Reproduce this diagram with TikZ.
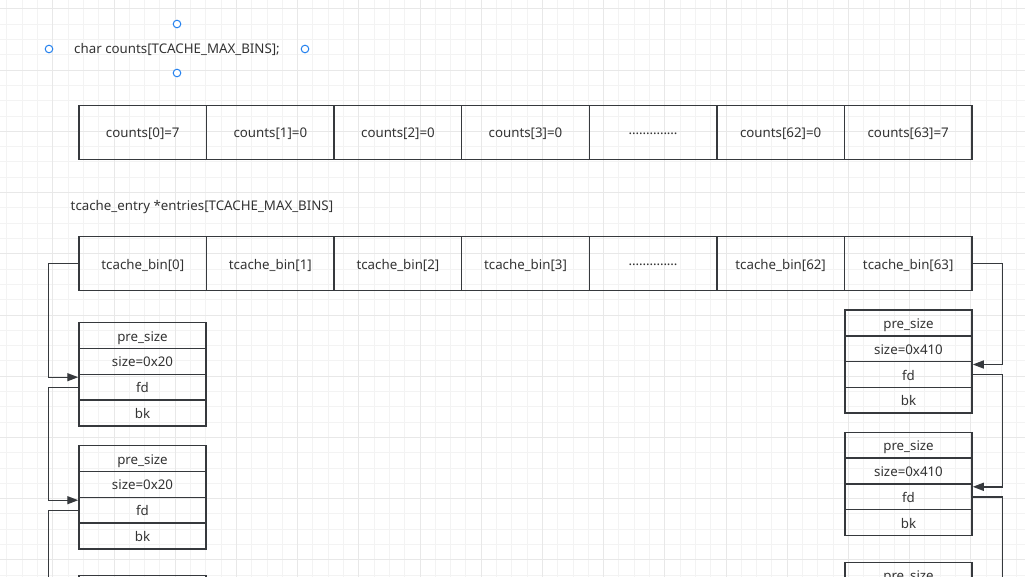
\documentclass[tikz,border=0pt]{standalone}
\usepackage{fontspec}
\setmainfont{Noto Sans}
\usetikzlibrary{arrows.meta}

\definecolor{linec}{RGB}{54,57,61}
\definecolor{txtc}{RGB}{51,51,51}
\definecolor{gridminor}{RGB}{243,243,243}
\definecolor{gridmajor}{RGB}{232,232,232}
\definecolor{handlec}{RGB}{34,128,238}

\newcommand{\binsgap}{\raisebox{3.5pt}{\makebox[49pt]{\xleaders\hbox to 3.27pt{\hss.\hss}\hfill}}}

\tikzset{
  cell/.style={draw=linec, line width=1.5pt, minimum width=127.6pt,
    minimum height=54pt, inner sep=0pt, text=txtc, text height=12.5pt, text depth=1.5pt},
  field/.style={draw=linec, line width=1.5pt, minimum width=127pt,
    minimum height=25.8pt, inner sep=0pt, text=txtc, text height=12.5pt, text depth=1.5pt},
  link/.style={draw=linec, line width=1.4pt, -{Triangle[length=11pt,width=8pt]}},
  lbl/.style={inner sep=0pt, text=txtc, text height=11pt, text depth=2pt},
  handle/.style={draw=handlec, fill=white, line width=1pt}
}

\begin{document}
\begin{tikzpicture}[x=1pt, y=-1pt, font=\fontsize{13.3}{16}\selectfont]

  \useasboundingbox (0,0) rectangle (1025,577);
  \clip (0,0) rectangle (1025,577);
  \fill[white] (0,0) rectangle (1025,577);

  % grid
  \foreach \i in {0,...,66} \draw[gridminor, line width=1pt] ({6.9+15.3*\i},0) -- ++(0,577);
  \foreach \j in {0,...,37} \draw[gridminor, line width=1pt] (0,{9+15.3*\j}) -- ++(1025,0);
  \foreach \i in {3,7,...,67} \draw[gridmajor, line width=1pt] ({6.9+15.3*\i},0) -- ++(0,577);
  \foreach \j in {0,4,...,36} \draw[gridmajor, line width=1pt] (0,{9+15.3*\j}) -- ++(1025,0);

  \node[lbl] (counts) at (177,49.2) {char counts[TCACHE\_MAX\_BINS];};
  \foreach \p in {(177,24),(49,49),(305,49),(177,73)}
    \draw[handle] \p circle[radius=3.8pt];

  \foreach \t [count=\i from 0] in {counts[0]=7,counts[1]=0,counts[2]=0,counts[3]=0,\binsgap,counts[62]=0,counts[63]=7}
    \node[cell] (c\i) at ({79+127.57*(\i+0.5)},132.5) {\t};

  \node[lbl, anchor=west] (entries) at (70.5,205.6) {tcache\_entry *entries[TCACHE\_MAX\_BINS]};

  \foreach \t [count=\i from 0] in {tcache\_bin[0],tcache\_bin[1],tcache\_bin[2],tcache\_bin[3],\binsgap,tcache\_bin[62],tcache\_bin[63]}
    \node[cell] (b\i) at ({79+127.57*(\i+0.5)},263.75) {\t};

  \foreach \n/\xc/\tp/\sz in {l1/142.5/322.7/0x20, l2/142.5/445.7/0x20,
      r1/908.5/310/0x410, r2/908.5/432.3/0x410} {
    \node[field] (\n-pre) at (\xc,\tp+12.9) {pre\_size};
    \node[field] (\n-size) at (\xc,\tp+38.7) {size=\sz};
    \node[field] (\n-fd) at (\xc,\tp+64.5) {fd};
    \node[field] (\n-bk) at (\xc,\tp+90.3) {bk};
  }
  \node[field] (l3-pre) at (142.5,588.6) {};
  \node[field] (r3-pre) at (908.5,575.2) {pre\_size};
  \coordinate (l3-in) at (79,630);
  \coordinate (r3-in) at (972,620);

  \draw[link] (b0.west) -- ++(-30,0) |- ([yshift=10pt]l1-fd.west);
  \draw[link] (l1-fd.west) -- ++(-30,0) |- ([yshift=10pt]l2-fd.west);
  \draw[link] (l2-fd.west) -- ++(-30,0) |- (l3-in);

  \draw[link] (b6.east) -- ++(30,0) |- ([yshift=10pt]r1-fd.east);
  \draw[link] (r1-fd.east) -- ++(30,0) |- ([yshift=10pt]r2-fd.east);
  \draw[link] (r2-fd.east) -- ++(30,0) |- (r3-in);

\end{tikzpicture}
\end{document}
